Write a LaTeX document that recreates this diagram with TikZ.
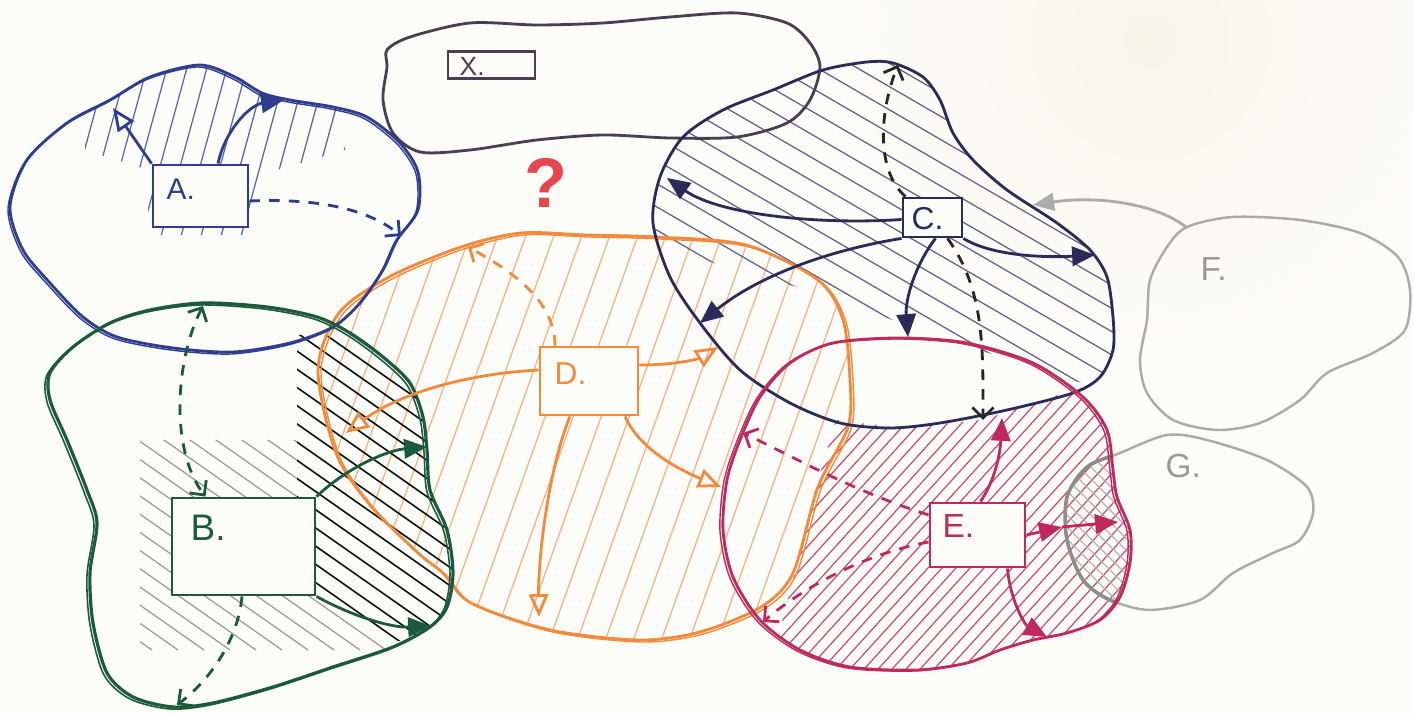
\documentclass[tikz,border=0pt]{standalone}
\usepackage{fontspec}
\setmainfont{Liberation Sans}
\usetikzlibrary{arrows.meta}
\definecolor{paper}{HTML}{FCFCF9}
\definecolor{paperY}{HTML}{F8F6E9}
\definecolor{colA}{HTML}{2E3D8F}
\definecolor{colB}{HTML}{1B5A3C}
\definecolor{colD}{HTML}{F28A3C}
\definecolor{colDh}{HTML}{F6B080}
\definecolor{colC}{HTML}{2B2A58}
\definecolor{colE}{HTML}{BF2A5E}
\definecolor{colG}{HTML}{ABABAB}
\definecolor{colX}{HTML}{4C3D50}
\definecolor{qred}{HTML}{E8464E}
\tikzset{
  lw/.style={line width=0.8pt},
  tri/.style={-{Triangle[length=6.5pt,width=5.5pt]}},
  otri/.style={-{Triangle[open,length=6.5pt,width=5.5pt]}},
  barb/.style={-{Straight Barb[length=3pt,width=6pt]}},
  dbarb/.style={{Straight Barb[length=3pt,width=6pt]}-{Straight Barb[length=3pt,width=6pt]}},
  dsh/.style={dash pattern=on 3pt off 2.6pt},
  hatchline/.style={line width=0.35pt},
  box/.style={draw, fill=paper, inner sep=0pt, line width=0.8pt},
  lab/.style={anchor=north west, inner sep=0pt},
}
\begin{document}
\begin{tikzpicture}[x=0.01cm,y=-0.01cm]
\fill[paper] (0,0) rectangle (1414,713);
\useasboundingbox (0,0) rectangle (1414,713);
\shade[inner color=paperY, outer color=paper] (1150,40) circle (3.2cm);

\def\blobA{plot[smooth cycle] coordinates {(10,207) (27,160) (67,123) (110,100) (150,77) (200,65) (235,77) (262,93) (290,100) (333,107) (367,117) (400,143) (418,172) (418,210) (397,240) (383,270) (360,303) (333,327) (290,343) (233,352) (173,348) (117,337) (83,317) (50,283) (23,250)}}
\def\blobB{plot[smooth cycle] coordinates {(203,303) (267,307) (317,317) (350,333) (383,357) (410,383) (423,417) (427,450) (430,490) (447,530) (453,573) (447,607) (430,627) (393,647) (333,667) (273,687) (213,703) (173,707) (133,697) (107,673) (93,623) (90,573) (97,523) (87,490) (67,440) (50,400) (50,373) (73,347) (110,323) (150,310)}}
\def\blobD{plot[smooth cycle] coordinates {(843,320) (850,380) (848,427) (818,487) (793,573) (761,607) (700,632) (639,640) (550,630) (471,603) (443,573) (418,553) (370,505) (336,453) (318,370) (339,313) (389,277) (461,247) (521,233) (586,235) (657,237) (746,245) (818,280)}}
\def\blobC{plot[smooth cycle] coordinates {(893,63) (923,77) (940,100) (953,133) (973,160) (1007,190) (1057,223) (1090,250) (1107,277) (1113,317) (1113,350) (1100,377) (1073,393) (1007,410) (940,423) (890,428) (840,423) (790,403) (740,370) (700,323) (670,277) (653,223) (660,177) (683,137) (723,110) (773,90) (823,70) (867,62)}}
\def\blobE{plot[smooth cycle] coordinates {(833,343) (900,338) (967,343) (1033,363) (1083,397) (1107,430) (1113,470) (1117,497) (1130,530) (1130,563) (1120,597) (1100,620) (1067,633) (1033,640) (1000,650) (967,663) (917,670) (850,667) (800,650) (760,620) (733,577) (723,530) (727,480) (740,440) (760,397) (790,363)}}
\def\blobF{plot[smooth cycle] coordinates {(1187,227) (1233,217) (1300,220) (1360,233) (1398,257) (1410,290) (1405,330) (1373,353) (1327,373) (1300,400) (1260,423) (1217,430) (1173,420) (1147,393) (1140,360) (1147,320) (1150,280) (1167,247)}}
\def\blobG{plot[smooth cycle] coordinates {(1167,435) (1207,440) (1267,460) (1307,487) (1313,513) (1300,540) (1273,553) (1233,573) (1200,600) (1150,610) (1110,600) (1083,580) (1067,540) (1067,497) (1087,467) (1120,453)}}
\def\blobX{plot[smooth cycle] coordinates {(387,50) (410,37) (470,23) (537,25) (603,23) (670,17) (737,13) (787,23) (810,43) (820,67) (810,100) (787,123) (737,137) (670,138) (603,135) (537,140) (470,150) (420,152) (393,133) (383,100) (387,67)}}

% ---------- hatching ----------
\begin{scope}
  \clip \blobD;
  \foreach \i in {-200,-172,...,1000} \draw[hatchline, colDh] (\i,700) -- ++(300,-840);
\end{scope}
\begin{scope}
  \clip \blobA;
  \clip (85,30) -- (345,30) -- (345,150) -- (260,175) -- (255,235) -- (148,235) -- (148,170) -- (85,150) -- cycle;
  \foreach \i in {60,80,...,400} \draw[hatchline, colA!80] (\i,240) -- ++(60,-220);
\end{scope}
\begin{scope}
  \clip \blobB;
  \clip (140,440) -- (297,440) -- (297,560) -- (320,600) -- (380,640) -- (430,665) -- (140,665) -- cycle;
  \foreach \i in {-400,-374,...,500} \draw[hatchline, black!40] (\i,300) -- ++(500,350);
\end{scope}
\begin{scope}
  \clip \blobB;
  \clip (297,335) -- (470,335) -- (470,645) -- (380,640) -- (320,600) -- (297,560) -- cycle;
  \foreach \i in {-400,-374,...,500} \draw[line width=0.45pt, black!80!colB] (\i,300) -- ++(500,350);
\end{scope}
\begin{scope}
  \clip \blobC;
  \clip (640,40) -- (1130,40) -- (1130,395) -- (1063,378) -- (950,340) -- (850,305) -- (760,275) -- (645,245) -- cycle;
  \foreach \i in {-500,-460,...,1200} \draw[hatchline, colC!75] (\i,0) -- ++(1000,580);
\end{scope}
\begin{scope}
  \clip \blobE;
  \clip (836,420) -- (900,428) -- (983,420) -- (1067,392) -- (1115,350) -- (1140,350) -- (1140,690) -- (775,690) -- (780,630) -- (797,563) -- (813,497) -- cycle;
  \foreach \i in {500,514,...,1200} \draw[hatchline, colE!85] (\i,700) -- ++(400,-440);
\end{scope}
\begin{scope}
  \clip \blobE;
  \clip \blobG;
  \foreach \i in {700,712,...,1200} \draw[hatchline, black!30] (\i,400) -- ++(300,300);
\end{scope}

% ---------- outlines ----------
\draw[colG, line width=0.7pt] \blobF;
\draw[colG, line width=0.7pt] \blobG;
\begin{scope}
  \clip \blobE;
  \draw[black!45, line width=1pt] \blobG;
\end{scope}
\draw[colX, lw] \blobX;
\draw[colD, lw] \blobD;
\draw[colD, line width=0.4pt, shift={(3,2)}] \blobD;
\draw[colA, lw] \blobA;
\draw[colA, line width=0.4pt, shift={(-2,2)}] \blobA;
\draw[colB, line width=0.9pt] \blobB;
\draw[colB, line width=0.45pt, shift={(-3,2)}] \blobB;
\draw[colC, lw] \blobC;
\draw[colE, lw] \blobE;
\draw[colE, line width=0.4pt, shift={(-3,1)}] \blobE;

% ---------- boxes ----------
\node[box, draw=colA, minimum width=0.95cm, minimum height=0.62cm] (A) at (200.5,196) {};
\node[box, draw=colB, minimum width=1.43cm, minimum height=0.97cm] (B) at (243.5,546.5) {};
\node[box, draw=colC, minimum width=0.59cm, minimum height=0.39cm] (C) at (932.5,217.5) {};
\node[box, draw=colD, minimum width=0.98cm, minimum height=0.68cm] (D) at (589,381) {};
\node[box, draw=colE, minimum width=0.95cm, minimum height=0.64cm] (E) at (977.5,535) {};
\node[box, draw=colX, minimum width=0.87cm, minimum height=0.27cm] (X) at (491.5,65) {};

\node[lab, text=colA, font=\fontsize{8.5}{9}\selectfont] (Alab) at (166,178) {A.};
\node[lab, text=colB, font=\fontsize{10.5}{11}\selectfont] (Blab) at (190,514) {B.};
\node[lab, text=colC, font=\fontsize{9}{9}\selectfont] (Clab) at (911,207) {C.};
\node[lab, text=colD, font=\fontsize{9}{9}\selectfont] (Dlab) at (554,362) {D.};
\node[lab, text=colE, font=\fontsize{9.5}{9}\selectfont] (Elab) at (942,514) {E.};
\node[lab, text=colX, font=\fontsize{7.5}{8}\selectfont] (Xlab) at (459,57) {X.};
\node[lab, text=black!40, font=\fontsize{9.5}{9}\selectfont] (Flab) at (1200,257) {F.};
\node[lab, text=black!40, font=\fontsize{9.5}{9}\selectfont] (Glab) at (1165,453) {G.};
\node[text=qred, font=\fontsize{20}{20}\bfseries\selectfont] (q) at (546,183) {?};

% ---------- arrows A ----------
\coordinate (a1) at (113,108);
\coordinate (a2) at (284,100);
\coordinate (a3) at (401,236);
\draw[colA, lw, otri] (A.north west) -- (a1);
\draw[colA, lw, tri] ([xshift=0.175cm]A.north) .. controls (225,130) and (250,105) .. (a2);
\draw[colA, lw, dsh, barb] ([yshift=-0.05cm]A.east) .. controls (320,198) and (370,210) .. (a3);

% ---------- arrows B ----------
\coordinate (b1) at (203,306);
\coordinate (b2) at (427,447);
\coordinate (b3) at (431,626);
\coordinate (b4) at (177,705);
\draw[colB, lw, dsh, dbarb] (b1) .. controls (175,360) and (170,450) .. ([xshift=-0.38cm]B.north);
\draw[colB, lw, tri] (B.north east) .. controls (350,465) and (390,450) .. (b2);
\draw[colB, lw, tri] (B.south east) .. controls (350,615) and (390,628) .. (b3);
\draw[colB, lw, dsh, barb] ([xshift=-0.015cm]B.south) .. controls (238,640) and (210,680) .. (b4);

% ---------- arrows D ----------
\coordinate (d1) at (346,433);
\coordinate (d2) at (718,347);
\coordinate (d3) at (721,487);
\coordinate (d4) at (539,617);
\coordinate (d5) at (468,247);
\draw[colD, lw, otri] ([yshift=0.11cm]D.west) .. controls (450,375) and (390,400) .. (d1);
\draw[colD, lw, otri] ([yshift=0.16cm]D.east) .. controls (680,365) and (700,358) .. (d2);
\draw[colD, lw, otri] ([xshift=0.36cm]D.south) .. controls (640,450) and (680,470) .. (d3);
\draw[colD, lw, otri] ([xshift=-0.19cm]D.south) .. controls (548,470) and (538,560) .. (d4);
\draw[colD, lw, dsh, barb] ([xshift=-0.34cm]D.north) .. controls (555,300) and (510,270) .. (d5);

% ---------- arrows C ----------
\coordinate (c1) at (667,178);
\coordinate (c2) at (700,323);
\coordinate (c3) at (908,337);
\coordinate (c4) at (1095,255);
\coordinate (c5) at (898,65);
\coordinate (c6) at (983,420);
\draw[colC, lw, tri] ([yshift=-0.02cm]C.west) .. controls (820,225) and (720,215) .. (c1);
\draw[colC, lw, tri] (C.south west) .. controls (830,250) and (760,275) .. (c2);
\draw[colC, lw, tri] ([xshift=0.03cm]C.south) .. controls (915,265) and (905,300) .. (c3);
\draw[colC, lw, tri] (C.south east) .. controls (990,255) and (1040,258) .. (c4);
\draw[black!85, lw, dsh, barb] ([xshift=-0.27cm]C.north) .. controls (875,170) and (880,110) .. (c5);
\draw[black!85, lw, dsh, barb] ([xshift=0.15cm]C.south) .. controls (985,290) and (983,350) .. (c6);

% ---------- arrows E ----------
\coordinate (e1) at (1002,418);
\coordinate (e2) at (1062,527);
\coordinate (e3) at (1118,522);
\coordinate (e4) at (1047,637);
\coordinate (e5) at (743,433);
\coordinate (e6) at (763,622);
\draw[colE, lw, tri] ([xshift=0.03cm]E.north) .. controls (995,480) and (1000,455) .. (e1);
\draw[colE, lw, tri] (E.east) -- (e2);
\draw[colE, lw, tri] (e2) -- (e3);
\draw[colE, lw, tri] ([xshift=0.3cm]E.south) .. controls (1010,600) and (1025,625) .. (e4);
\draw[colE, lw, dsh, barb] ([yshift=0.2cm]E.west) .. controls (850,490) and (790,455) .. (e5);
\draw[colE, lw, dsh, barb] ([yshift=-0.07cm]E.west) .. controls (860,555) and (800,590) .. (e6);

% ---------- arrow F ----------
\coordinate (f1) at (1187,228);
\coordinate (f0) at (1033,205);
\draw[colG, line width=0.8pt, -{Triangle[length=6pt,width=5pt]}] (f1) .. controls (1160,205) and (1100,195) .. (f0);
\end{tikzpicture}
\end{document}
